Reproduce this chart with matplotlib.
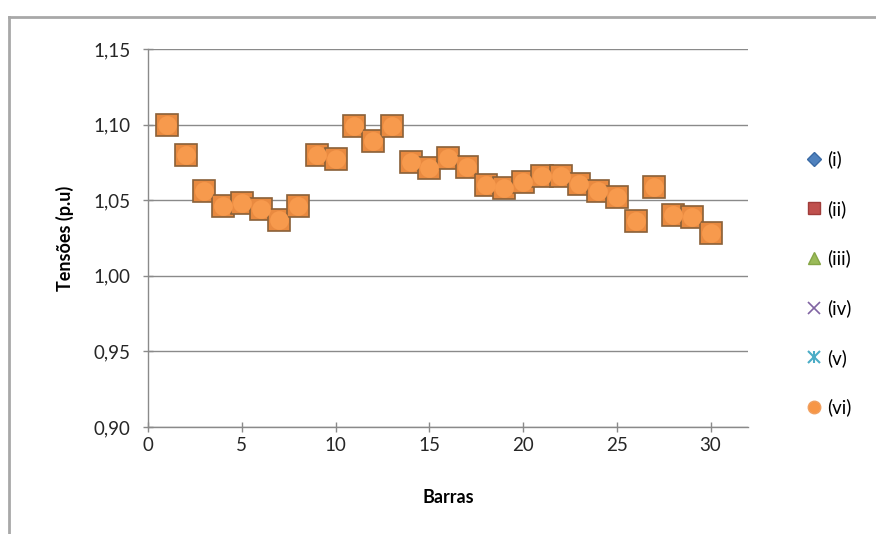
import numpy as np
import matplotlib.pyplot as plt
from matplotlib.lines import Line2D
from matplotlib.ticker import FuncFormatter, MultipleLocator

plt.rcParams['font.family'] = ['Lato', 'DejaVu Sans']

barras = np.arange(1, 31)
tensoes = [1.100, 1.080, 1.056, 1.046, 1.048, 1.044, 1.037, 1.046, 1.080, 1.077,
           1.099, 1.089, 1.099, 1.075, 1.071, 1.078, 1.072, 1.060, 1.058, 1.062,
           1.066, 1.066, 1.061, 1.056, 1.052, 1.036, 1.059, 1.040, 1.039, 1.028]
series = ['(i)', '(ii)', '(iii)', '(iv)', '(v)', '(vi)']

W, H = 876, 534
fig = plt.figure(figsize=(W / 100, H / 100), dpi=100)
ax = fig.add_axes([148 / W, 1 - 427 / H, 600 / W, 378 / H])

# orange markers: dark-rimmed square under a round face
ax.plot(barras, tensoes, ls='none', marker='s', ms=16, mfc='#e98a40',
        mec='#8a6038', mew=1.2, zorder=3, clip_on=False)
ax.plot(barras, tensoes, ls='none', marker='o', ms=13.5, mfc='#f79a4d',
        mec='none', zorder=4, clip_on=False)

ax.set_xlim(0, 32)
ax.set_ylim(0.90, 1.15)
ax.yaxis.set_major_locator(MultipleLocator(0.05))
ax.set_xticks(np.arange(0, 31, 5))
ax.yaxis.set_major_formatter(FuncFormatter(lambda v, p: f'{v:.2f}'.replace('.', ',')))
ax.grid(axis='y', color='#8a8a8a', lw=1.0)
ax.set_axisbelow(True)
for s in ['top', 'right']:
    ax.spines[s].set_visible(False)
for s in ['left', 'bottom']:
    ax.spines[s].set_color('#8a8a8a')
    ax.spines[s].set_linewidth(1.0)
ax.tick_params(direction='inout', length=7, width=1, color='#8a8a8a',
               labelsize=13.5, labelcolor='#262626')
ax.tick_params(axis='y', pad=9)
ax.tick_params(axis='x', pad=4)
ax.set_xlabel('Barras', fontsize=13, fontweight='bold', labelpad=25)
ax.set_ylabel('Tensões (p.u)', fontsize=13, fontweight='bold', labelpad=14)

handles = [
    Line2D([], [], ls='none', marker='D', ms=7, mfc='#4f81bd', mec='#3a6aa5'),
    Line2D([], [], ls='none', marker='s', ms=9, mfc='#c0504d', mec='#a03c3a'),
    Line2D([], [], ls='none', marker='^', ms=9, mfc='#9bbb59', mec='#86a647'),
    Line2D([], [], ls='none', marker='x', ms=8.5, mec='#8064a2', mew=1.2),
    (Line2D([], [], ls='none', marker='x', ms=8.5, mec='#4bacc6', mew=1.5),
     Line2D([], [], ls='none', marker='|', ms=8.5, mec='#4bacc6', mew=1.5)),
    Line2D([], [], ls='none', marker='o', ms=9, mfc='#f79646', mec='#f0a060'),
]
fig.legend(handles, series, loc='upper left', bbox_to_anchor=(798 / W, 1 - 143 / H),
           frameon=False, fontsize=13.5, handlelength=0.9, handletextpad=0.25,
           labelspacing=1.69, borderaxespad=0)

# chart area frame
fig.add_artist(Line2D([9 / W, 1], [1 - 17 / H, 1 - 17 / H], color='#a8a8a8', lw=2))
fig.add_artist(Line2D([9 / W, 9 / W], [0, 1 - 17 / H], color='#a8a8a8', lw=2))

fig.savefig('out.png', dpi=100, facecolor='white')
